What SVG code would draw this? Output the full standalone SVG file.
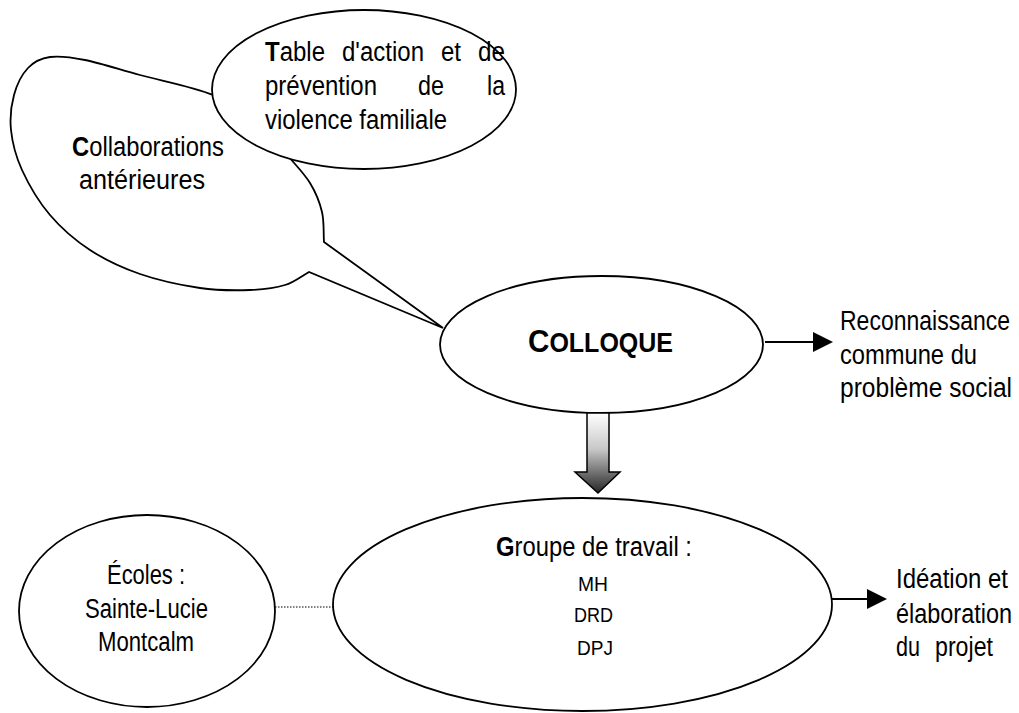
<svg xmlns="http://www.w3.org/2000/svg" width="1019" height="713" viewBox="0 0 1019 713">
  <style>
    .shape { fill: #ffffff; stroke: #000000; stroke-width: 1.8; }
    .txt { font-family: "Liberation Sans", Arial, sans-serif; font-size: 27px; fill: #000000; }
    .small { font-size: 21px; }
    .b { font-weight: bold; }
    .line { stroke: #000000; stroke-width: 1.8; fill: none; }
    .dot { stroke: #000000; stroke-width: 1.2; stroke-dasharray: 1.5 1.5; fill: none; }
  </style>
  <defs>
    <linearGradient id="shade" x1="0" y1="413" x2="0" y2="493" gradientUnits="userSpaceOnUse">
      <stop offset="0" stop-color="#ffffff"/>
      <stop offset="0.45" stop-color="#c8c8c8"/>
      <stop offset="1" stop-color="#262626"/>
    </linearGradient>
  </defs>

  <rect width="1019" height="713" fill="#ffffff"/>

  <!-- oval callout pointing at the colloquium -->
  <g id="collaborations">
    <path class="shape" d="M309,272 C301,276.3 294.8,282 285,285 C275.2,288 264.2,289.5 250,290 C235.8,290.5 218.3,290.7 200,288 C181.7,285.3 158.3,280.3 140,274 C121.7,267.7 105,259.8 90,250 C75,240.2 61.3,228.3 50,215 C38.7,201.7 28.5,184.2 22,170 C15.5,155.8 12.3,142.5 11,130 C9.7,117.5 11.2,105.3 14,95 C16.8,84.7 22,74.3 28,68 C34,61.7 40.5,58.3 50,57 C59.5,55.7 70,57 85,60 C100,63 118.7,69.2 140,75 C161.3,80.8 193,86.7 213,95 C233,103.3 247.5,114.8 260,125 C272.5,135.2 279.7,146.3 288,156 C296.3,165.7 304.3,173.7 310,183 C315.7,192.3 319.7,202.2 322,212 C324.3,221.8 323.3,232 324,242 L443,328 Z"/>
    <text class="txt" x="72" y="156" textLength="152" lengthAdjust="spacingAndGlyphs"><tspan class="b">C</tspan>ollaborations</text>
    <text class="txt" x="79" y="189" textLength="126" lengthAdjust="spacingAndGlyphs">antérieures</text>
  </g>

  <g id="table-action">
    <ellipse class="shape" cx="364" cy="89.5" rx="152" ry="79.5"/>
    <text class="txt" x="265" y="61" textLength="60" lengthAdjust="spacingAndGlyphs"><tspan class="b">T</tspan>able</text>
    <text class="txt" x="342" y="61" textLength="82" lengthAdjust="spacingAndGlyphs">d'action</text>
    <text class="txt" x="441" y="61" textLength="20" lengthAdjust="spacingAndGlyphs">et</text>
    <text class="txt" x="478" y="61" textLength="27" lengthAdjust="spacingAndGlyphs">de</text>
    <text class="txt" x="265" y="95" textLength="112" lengthAdjust="spacingAndGlyphs">prévention</text>
    <text class="txt" x="418" y="95" textLength="26" lengthAdjust="spacingAndGlyphs">de</text>
    <text class="txt" x="487" y="95" textLength="18" lengthAdjust="spacingAndGlyphs">la</text>
    <text class="txt" x="265" y="129" textLength="182" lengthAdjust="spacingAndGlyphs">violence familiale</text>
  </g>

  <g id="colloque">
    <ellipse class="shape" cx="601.5" cy="344.5" rx="161.5" ry="68.5"/>
    <text class="txt b" x="528" y="352" font-size="25" textLength="145" lengthAdjust="spacingAndGlyphs"><tspan font-size="32">C</tspan>OLLOQUE</text>
  </g>

  <g id="reconnaissance">
    <text class="txt" x="840" y="330" textLength="170" lengthAdjust="spacingAndGlyphs">Reconnaissance</text>
    <text class="txt" x="840" y="364" textLength="137" lengthAdjust="spacingAndGlyphs">commune du</text>
    <text class="txt" x="840" y="397" textLength="172" lengthAdjust="spacingAndGlyphs">problème social</text>
  </g>

  <g id="groupe-travail">
    <ellipse class="shape" cx="582.5" cy="604.5" rx="249.5" ry="106.5"/>
    <text class="txt" x="496" y="556" font-size="26" textLength="196" lengthAdjust="spacingAndGlyphs"><tspan class="b">G</tspan>roupe de travail :</text>
    <text class="txt small" x="578" y="591" textLength="30" lengthAdjust="spacingAndGlyphs">MH</text>
    <text class="txt small" x="574" y="622" textLength="39" lengthAdjust="spacingAndGlyphs">DRD</text>
    <text class="txt small" x="577" y="655" textLength="36" lengthAdjust="spacingAndGlyphs">DPJ</text>
  </g>

  <g id="ecoles">
    <ellipse class="shape" cx="147" cy="611" rx="128" ry="96"/>
    <text class="txt" x="107" y="584" font-size="28" textLength="78" lengthAdjust="spacingAndGlyphs">Écoles :</text>
    <text class="txt" x="85" y="618" font-size="28" textLength="123" lengthAdjust="spacingAndGlyphs">Sainte-Lucie</text>
    <text class="txt" x="98" y="651" font-size="28" textLength="96" lengthAdjust="spacingAndGlyphs">Montcalm</text>
  </g>

  <g id="ideation">
    <text class="txt" x="896" y="588" font-size="28" textLength="112" lengthAdjust="spacingAndGlyphs">Idéation et</text>
    <text class="txt" x="896" y="623" font-size="28" textLength="116" lengthAdjust="spacingAndGlyphs">élaboration</text>
    <text class="txt" x="896" y="656" font-size="28" textLength="24" lengthAdjust="spacingAndGlyphs">du</text>
    <text class="txt" x="935" y="656" font-size="28" textLength="58" lengthAdjust="spacingAndGlyphs">projet</text>
  </g>

  <g id="connectors">
    <!-- colloque to shared recognition -->
    <line class="line" x1="765" y1="342" x2="814" y2="342"/>
    <polygon points="813,332 833,342 813,352" fill="#000000"/>
    <!-- work group to project design -->
    <line class="line" x1="832" y1="599" x2="868" y2="599"/>
    <polygon points="867,589 887,599 867,609" fill="#000000"/>
    <!-- schools linked to the work group -->
    <line class="dot" x1="275" y1="607" x2="333" y2="607"/>
    <!-- shaded block arrow from colloque down to the work group -->
    <path d="M587,413 L609,413 L609,472 L620,472 L598,493 L575,472 L587,472 Z" fill="url(#shade)" stroke="#000000" stroke-width="1.5" stroke-linejoin="miter"/>
  </g>
</svg>
